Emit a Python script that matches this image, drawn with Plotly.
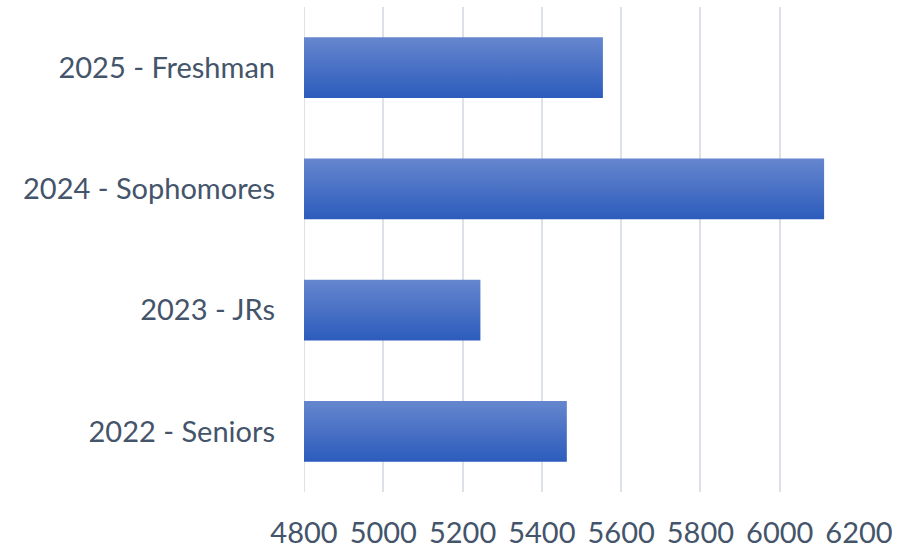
import plotly.graph_objects as go

categories = ["2022 - Seniors", "2023 - JRs", "2024 - Sophomores", "2025 - Freshman"]
values = [5463, 5245, 6112, 5554]
x_ticks = [4800, 5000, 5200, 5400, 5600, 5800, 6000, 6200]

base = x_ticks[0]
half = 0.25
text_color = "#44546A"
grid_color = "#DDE1E8"

fig = go.Figure()
for i, (cat, v) in enumerate(zip(categories, values)):
    fig.add_trace(go.Scatter(
        x=[base, v, v, base, base],
        y=[i - half, i - half, i + half, i + half, i - half],
        mode="lines",
        line=dict(width=0, color="rgba(0,0,0,0)"),
        fill="toself",
        fillgradient=dict(type="vertical",
                          colorscale=[[0, "#2C5CBC"], [1, "#6686CE"]]),
        hoverinfo="text",
        text=f"{cat}: {v}",
        showlegend=False,
    ))

fig.add_shape(type="line", xref="x", yref="paper", x0=base, x1=base, y0=0, y1=1,
              line=dict(color=grid_color, width=2), layer="below")

fig.update_layout(
    width=910, height=556,
    margin=dict(l=304, r=51, t=7, b=64),
    plot_bgcolor="white", paper_bgcolor="white",
    font=dict(family="Lato, Open Sans, sans-serif", size=29, color=text_color),
    showlegend=False,
)
fig.update_xaxes(
    range=[x_ticks[0], x_ticks[-1]], tickvals=x_ticks, ticktext=[str(t) for t in x_ticks],
    tickfont=dict(size=29),
    showgrid=True, gridcolor=grid_color, gridwidth=2,
    zeroline=False, showline=False, ticks="", ticklabelstandoff=21,
    automargin=False,
)
fig.update_yaxes(
    range=[-0.5, len(categories) - 0.5],
    tickvals=list(range(len(categories))), ticktext=categories,
    showgrid=False, zeroline=False, showline=False, ticks="",
    ticklabelstandoff=28, automargin=False,
)
fig.write_html("out.html",
               config={"displayModeBar": False},
               post_script="document.body.style.margin='0';document.body.style.overflow='hidden';")
